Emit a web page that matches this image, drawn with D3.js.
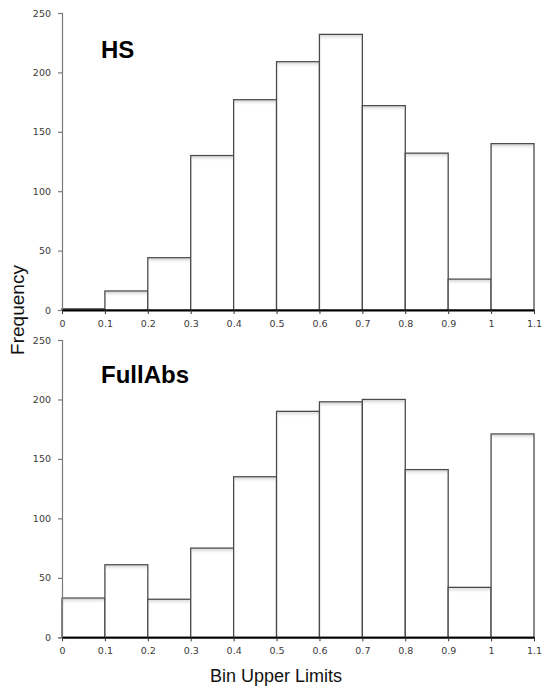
<!DOCTYPE html>
<html>
<head>
<meta charset="utf-8">
<script src="https://cdn.jsdelivr.net/npm/d3@7"></script>
<style>
  html, body { margin: 0; padding: 0; background: #fff; }
  svg { display: block; }
</style>
</head>
<body>
<svg id="chart" width="543" height="686"></svg>
<script>
// Data
const binEdges = [0, 0.1, 0.2, 0.3, 0.4, 0.5, 0.6, 0.7, 0.8, 0.9, 1, 1.1];
const xTickLabels = ["0", "0.1", "0.2", "0.3", "0.4", "0.5", "0.6", "0.7", "0.8", "0.9", "1", "1.1"];
const yTicks = [0, 50, 100, 150, 200, 250];
const hsValues = [1, 16, 44, 130, 177, 209, 232, 172, 132, 26, 140];
const fullAbsValues = [33, 61, 32, 75, 135, 190, 198, 200, 141, 42, 171];
const panelTitles = ["HS", "FullAbs"];
const xAxisTitle = "Bin Upper Limits";
const yAxisTitle = "Frequency";

const svg = d3.select("#chart");
const defs = svg.append("defs");
const grad = defs.append("linearGradient").attr("id", "topShade")
  .attr("x1", 0).attr("y1", 0).attr("x2", 0).attr("y2", 1);
grad.append("stop").attr("offset", "0%").attr("stop-color", "#d4d4d4");
grad.append("stop").attr("offset", "100%").attr("stop-color", "#ffffff").attr("stop-opacity", 0);

const x = d3.scaleLinear().domain([0, 1.1]).range([62, 534]);

const panels = [
  { values: hsValues, title: panelTitles[0], yRange: [310, 13], titleY: 58 },
  { values: fullAbsValues, title: panelTitles[1], yRange: [637.3, 340], titleY: 383 }
];

panels.forEach(p => {
  const y = d3.scaleLinear().domain([0, 250]).range(p.yRange);
  const g = svg.append("g");
  const bins = p.values.map((v, i) => ({ x0: binEdges[i], x1: binEdges[i + 1], v }));

  // bars
  const bar = g.selectAll("g.bar").data(bins).join("g").attr("class", "bar");
  bar.append("rect")
    .attr("x", d => x(d.x0))
    .attr("y", d => y(d.v))
    .attr("width", d => x(d.x1) - x(d.x0))
    .attr("height", d => y(0) - y(d.v))
    .attr("fill", "#fff");
  bar.filter(d => y(0) - y(d.v) > 6).append("rect")
    .attr("x", d => x(d.x0) + 1)
    .attr("y", d => y(d.v) + 1)
    .attr("width", d => x(d.x1) - x(d.x0) - 2)
    .attr("height", 5)
    .attr("fill", "url(#topShade)");
  bar.append("rect")
    .attr("x", d => x(d.x0))
    .attr("y", d => y(d.v))
    .attr("width", d => x(d.x1) - x(d.x0))
    .attr("height", d => y(0) - y(d.v))
    .attr("fill", "none")
    .attr("stroke", "#4a4a4a")
    .attr("stroke-width", 1.3);

  // y axis
  const yAxis = d3.axisLeft(y).tickValues(yTicks).tickSize(4).tickPadding(7);
  const ya = g.append("g").attr("transform", `translate(${x(0)},0)`).call(yAxis);
  ya.select(".domain").attr("stroke", "#7a7a7a").attr("stroke-width", 1.2);
  ya.selectAll(".tick line").attr("stroke", "#7a7a7a").attr("stroke-width", 1.2);
  ya.selectAll(".tick text").attr("font-family", "DejaVu Sans, Verdana, sans-serif")
    .attr("font-size", 9.5).attr("fill", "#3a3a3a");

  // x axis
  const xAxis = d3.axisBottom(x).tickValues(binEdges)
    .tickFormat((d, i) => xTickLabels[i]).tickSize(4).tickSizeOuter(0).tickPadding(6);
  const xa = g.append("g").attr("transform", `translate(0,${y(0)})`).call(xAxis);
  xa.select(".domain").attr("stroke", "#000").attr("stroke-width", 2);
  xa.selectAll(".tick line").attr("stroke", "#333").attr("stroke-width", 1);
  xa.selectAll(".tick text").attr("font-family", "DejaVu Sans, Verdana, sans-serif")
    .attr("font-size", 9.5).attr("fill", "#3a3a3a");

  // panel title
  g.append("text")
    .attr("x", 101).attr("y", p.titleY)
    .attr("font-family", "Liberation Sans, Arial, sans-serif")
    .attr("font-weight", "bold").attr("font-size", 24).attr("fill", "#000")
    .text(p.title);
});

// axis titles
svg.append("text")
  .attr("x", 276).attr("y", 682)
  .attr("text-anchor", "middle")
  .attr("font-family", "Liberation Sans, Arial, sans-serif")
  .attr("font-size", 18).attr("fill", "#111")
  .text(xAxisTitle);

svg.append("text")
  .attr("transform", "translate(24,310) rotate(-90)")
  .attr("text-anchor", "middle")
  .attr("font-family", "Liberation Sans, Arial, sans-serif")
  .attr("font-size", 19).attr("fill", "#111")
  .text(yAxisTitle);
</script>
</body>
</html>
